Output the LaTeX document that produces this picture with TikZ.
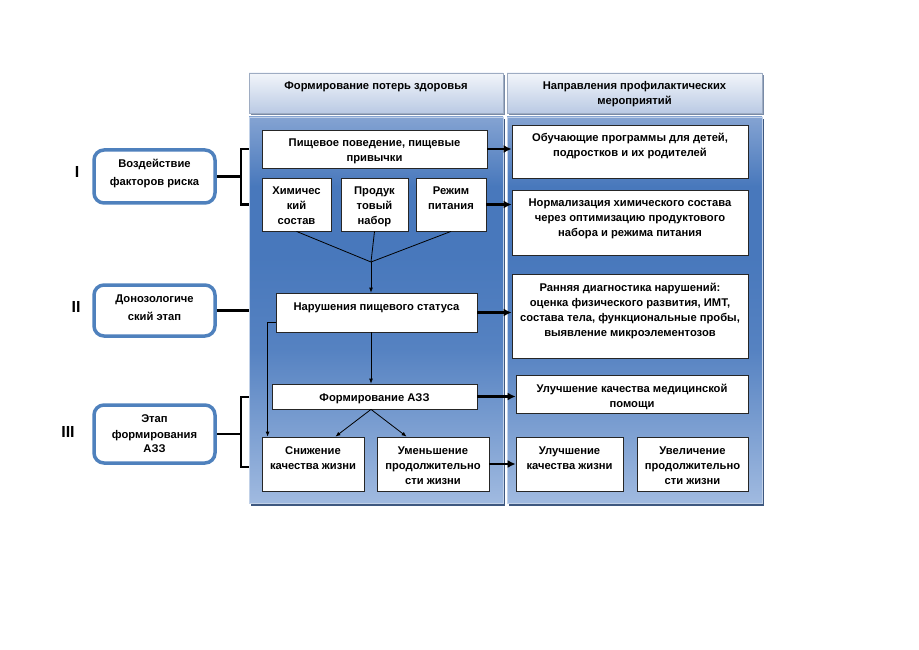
\documentclass[tikz,border=0pt]{standalone}
\usepackage{fontspec}
\setmainfont{Liberation Sans}
\usetikzlibrary{arrows.meta,shadows}
\definecolor{pTop}{RGB}{132,163,210}
\definecolor{pMid}{RGB}{72,120,188}
\definecolor{pBot}{RGB}{160,186,224}
\definecolor{hTop}{RGB}{242,245,250}
\definecolor{hBot}{RGB}{186,202,228}
\definecolor{shc}{RGB}{62,88,128}
\definecolor{rb}{RGB}{79,129,189}
\pgfdeclareverticalshading{panelsh}{100bp}{color(0bp)=(pBot); color(25bp)=(pBot); color(45bp)=(pMid!85!pBot); color(57bp)=(pMid); color(66bp)=(pMid); color(75bp)=(pTop); color(100bp)=(pTop)}
\newcommand{\txt}{\fontsize{11.2}{15}\selectfont\bfseries}
\newcommand{\bx}[7][wbox]{%
  \node[#1] (#2) at ({(#3+#5)/2},{(#4+#6)/2})
  {\parbox[c][\dimexpr #6pt-#4pt\relax][t]{\dimexpr #5pt-#3pt\relax}{\txt\centering\vspace*{6.5pt}\strut #7\strut}};}
\tikzset{
  wbox/.style={draw=black!85, line width=0.8pt, fill=white, inner sep=0pt},
  panel/.style={draw=pTop!50!white, line width=0.6pt, inner sep=0pt,
    shading=panelsh,
    drop shadow={shadow xshift=1.5pt, shadow yshift=-2.5pt, fill=shc, opacity=1}},
  hdr/.style={draw=hBot!85!black, line width=0.5pt, inner sep=0pt,
    top color=hTop, bottom color=hBot,
    drop shadow={shadow xshift=1.5pt, shadow yshift=-2.5pt, fill=shc!70, opacity=1}},
  rbox/.style={draw=rb, line width=3.5pt, rounded corners=10pt, fill=white, inner sep=0pt},
  thk/.style={line width=2.6pt, -{Latex[length=8pt,width=8pt]}},
  thn/.style={line width=0.8pt, -{Latex[length=5pt,width=4pt]}},
  brk/.style={line width=2.5pt},
  roman/.style={font=\fontsize{16}{18}\selectfont\bfseries, inner sep=0pt}
}
\begin{document}
\begin{tikzpicture}[x=1pt,y=-1pt]
\useasboundingbox (0,0) rectangle (919,650);
% headers
\bx[hdr]{lh}{249}{73}{503}{113}{Формирование потерь здоровья}
\bx[hdr]{rh}{507}{73}{762}{113}{Направления профилактических\\мероприятий}
% panels
\node[panel, minimum width=254pt, minimum height=386pt] (lp) at (376,310) {};
\node[panel, minimum width=255pt, minimum height=386pt] (rp) at (634.5,310) {};
% left panel boxes
\bx{h0}{262}{130}{487}{168}{Пищевое поведение, пищевые\\привычки}
\bx{h1}{262}{178}{331}{231}{Химичес\\кий\\состав}
\bx{h2}{341}{178}{408}{231}{Продук\\товый\\набор}
\bx{h3}{416}{178}{486}{231}{Режим\\питания}
\bx{ns}{276}{293}{477}{332}{Нарушения пищевого статуса}
\bx{fa}{272}{384}{477}{409}{Формирование АЗЗ}
\bx{sn}{262}{437}{364}{491}{Снижение\\качества жизни}
\bx{um}{377}{437}{489}{491}{Уменьшение\\продолжительно\\сти жизни}
% right panel boxes
\bx{o1}{512}{125}{748}{178}{Обучающие программы для детей,\\подростков и их родителей}
\bx{o2}{512}{190}{748}{255}{Нормализация химического состава\\через оптимизацию продуктового\\набора и режима питания}
\bx{o3}{512}{274}{748}{358}{Ранняя диагностика нарушений:\\оценка физического развития, ИМТ,\\состава тела, функциональные пробы,\\выявление микроэлементозов}
\bx{o4}{516}{375}{748}{413}{Улучшение качества медицинской\\помощи}
\bx{o5}{516}{437}{623}{491}{Улучшение\\качества жизни}
\bx{o6}{637}{437}{748}{491}{Увеличение\\продолжительно\\сти жизни}
% rounded stage boxes
\bx[rbox]{r1}{94}{150}{215}{203}{Воздействие\\[3pt]факторов риска}
\bx[rbox]{r2}{94}{285}{215}{336}{Донозологиче\\[3pt]ский этап}
\bx[rbox]{r3}{94}{405}{215}{463}{\vspace*{2.5pt}Этап\\[-1pt]формирования\\[-1pt]АЗЗ}
% roman numerals
\node[roman] (n1) at (77,172) {I};
\node[roman] (n2) at (76,307) {II};
\node[roman] (n3) at (68,432) {III};
% brackets
\coordinate (bx) at (241,0);
\coordinate (b3a) at (249,397);
\coordinate (b3b) at (249,467);
\draw[brk] (r1.east) -- (r1.east -| bx);
\draw[brk] (lp.west |- h0) -- (bx |- h0) -- (bx |- h1) -- (lp.west |- h1);
\draw[brk] (r2.east) -- (r2.east -| lp.west);
\draw[brk] (r3.east) -- (r3.east -| bx);
\draw[brk] (b3a) -- (bx |- b3a) -- (bx |- b3b) -- (b3b);
% converging lines
\coordinate (j) at (371,262);
\draw[line width=0.8pt] (h1.south) -- (j);
\draw[line width=0.8pt] (h2.south) -- (j);
\draw[line width=0.8pt] (h3.south) -- (j);
\draw[thn] (j) -- (j |- ns.north);
\draw[thn] (ns.south -| j) -- (fa.north -| j);
\draw[thn] (fa.south -| j) -- ([xshift=-29pt]sn.north east);
\draw[thn] (fa.south -| j) -- ([xshift=30pt]um.north west);
\draw[thn] ([yshift=-9.5pt]ns.west) -| ([xshift=6pt]sn.north west);
% thick arrows to right panel
\draw[thk] (h0.east) -- (h0.east -| o1.west);
\draw[thk] (h3.east) -- (h3.east -| o2.west);
\draw[thk] (ns.east) -- (ns.east -| o3.west);
\draw[thk] (fa.east) -- (fa.east -| o4.west);
\draw[thk] (um.east) -- (um.east -| o5.west);
\end{tikzpicture}
\end{document}
